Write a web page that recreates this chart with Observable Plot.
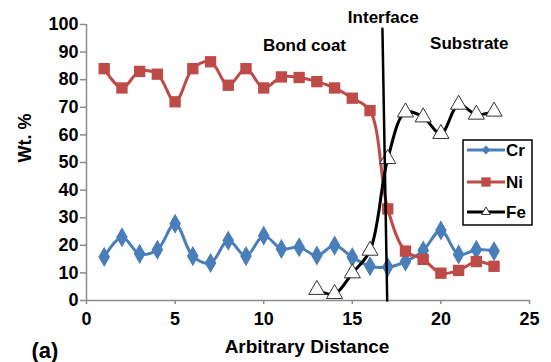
<!DOCTYPE html>
<html>
<head>
<meta charset="utf-8">
<script src="https://cdn.jsdelivr.net/npm/d3@7"></script>
<script src="https://cdn.jsdelivr.net/npm/@observablehq/plot@0.6"></script>
<style>
  body { margin: 0; background: #fff; }
  #wrap { position: relative; width: 551px; height: 362px; }
  #legend { position: absolute; left: 462px; top: 139px; }
</style>
</head>
<body>
<div id="wrap"></div>
<script>
// ---- data ----
const distance = [1,2,3,4,5,6,7,8,9,10,11,12,13,14,15,16,17,18,19,20,21,22,23];
const cr = [15.8,22.9,16.9,18.4,27.8,16.1,13.6,21.7,16.1,23.5,18.7,19.3,16.3,19.9,15.7,12.4,12.1,14.1,18.1,25.4,16.7,18.4,17.9];
const ni = [84,77,83,82,72,84,86.5,78,84,77,81,80.8,79.3,77,73.3,68.8,33.2,17.9,14.9,9.9,10.9,14.1,12.4];
const feDistance = [13,14,15,16,17,18,19,20,21,22,23];
const fe = [3.9,2.4,9.9,18.1,51.3,68.2,66.4,60.4,71,67.4,68.5];
const interfaceX = [16.7, 16.97];
const interfaceY = [98.5, 0];
const xTicks = [0,5,10,15,20,25];
const yTicks = [0,10,20,30,40,50,60,70,80,90,100];
const annotations = [
  {label: "Bond coat", x: 12.3, y: 92.5},
  {label: "Interface", x: 16.75, y: 102.4},
  {label: "Substrate", x: 21.6, y: 93.2}
];
const seriesNames = ["Cr", "Ni", "Fe"];
const colors = {Cr: "#4a7ebb", Ni: "#be4b48", Fe: "#000000"};

const crData = distance.map((d, i) => ({x: d, y: cr[i]}));
const niData = distance.map((d, i) => ({x: d, y: ni[i]}));
const feData = feDistance.map((d, i) => ({x: d, y: fe[i]}));
const ifaceData = interfaceX.map((d, i) => ({x: d, y: interfaceY[i]}));

const FONT = "Liberation Sans, Arial, Helvetica, sans-serif";
const axisGray = "#8c8c8c";

const chart = Plot.plot({
  width: 551,
  height: 362,
  marginLeft: 86,
  marginRight: 22,
  marginTop: 24,
  marginBottom: 62,
  style: {fontFamily: FONT, fontWeight: "bold", fontSize: "17px", color: "#000", background: "transparent", overflow: "visible"},
  x: {domain: [0, 25]},
  y: {domain: [0, 100]},
  marks: [
    Plot.axisX({ticks: xTicks, tickSize: 4, tickPadding: 8, stroke: axisGray, strokeWidth: 1.5, label: null, fontSize: 18, fontWeight: "bold", fill: "#000"}),
    Plot.axisY({ticks: yTicks, tickSize: 6, tickPadding: 2, stroke: axisGray, strokeWidth: 1.5, label: null, fontSize: 18, fontWeight: "bold", fill: "#000"}),
    Plot.ruleY([0], {stroke: axisGray, strokeWidth: 1.5}),
    Plot.ruleX([0], {stroke: axisGray, strokeWidth: 1.5}),
    Plot.line(crData, {x: "x", y: "y", stroke: colors.Cr, strokeWidth: 3, curve: "catmull-rom"}),
    Plot.dot(crData, {x: "x", y: "y", symbol: "diamond", r: 5.2, fill: colors.Cr, stroke: colors.Cr}),
    Plot.line(niData, {x: "x", y: "y", stroke: colors.Ni, strokeWidth: 3, curve: "catmull-rom"}),
    Plot.dot(niData, {x: "x", y: "y", symbol: "square", r: 6.4, fill: colors.Ni, stroke: "none"}),
    Plot.line(feData, {x: "x", y: "y", stroke: colors.Fe, strokeWidth: 3, curve: "catmull-rom"}),
    Plot.dot(feData, {x: "x", y: "y", symbol: "triangle", r: 6, fill: "#fff", stroke: "#333", strokeWidth: 1}),
    Plot.line(ifaceData, {x: "x", y: "y", stroke: "#000", strokeWidth: 2.5}),
    Plot.text(annotations, {x: "x", y: "y", text: "label", fontSize: 17, fontWeight: "bold", fill: "#000"}),
    Plot.text(["Wt. %"], {frameAnchor: "left", rotate: -90, dx: -61, fontSize: 18, fontWeight: "bold", fill: "#000"}),
    Plot.text(["Arbitrary Distance"], {frameAnchor: "bottom", dy: 52, dx: -1, fontSize: 19, fontWeight: "bold", fill: "#000"}),
    Plot.text(["(a)"], {frameAnchor: "bottom-left", dy: 57, dx: -55, fontSize: 22, fontWeight: "bold", fill: "#000"})
  ]
});
document.getElementById("wrap").appendChild(chart);

// ---- legend ----
const lw = 71, lh = 87;
const leg = d3.select("#wrap").append("svg")
  .attr("id", "legend").attr("width", lw).attr("height", lh)
  .style("font-family", FONT).style("font-weight", "bold").style("font-size", "17px");
leg.append("rect").attr("x", 1).attr("y", 1).attr("width", lw - 2).attr("height", lh - 2)
  .attr("fill", "#fff").attr("stroke", "#000").attr("stroke-width", 1.5);
const rowY = [11, 43, 73];
seriesNames.forEach((name, i) => {
  const g = leg.append("g").attr("transform", `translate(0,${rowY[i]})`);
  g.append("line").attr("x1", 5).attr("x2", 43).attr("y1", 0).attr("y2", 0)
    .attr("stroke", colors[name]).attr("stroke-width", 3);
  const sym = name === "Cr" ? d3.symbolDiamond2 : name === "Ni" ? d3.symbolSquare2 : d3.symbolTriangle2;
  const size = name === "Cr" ? 50 : name === "Ni" ? 110 : 55;
  g.append("path").attr("d", d3.symbol(sym, size)()).attr("transform", "translate(24,0)")
    .attr("fill", name === "Fe" ? "#fff" : colors[name])
    .attr("stroke", name === "Fe" ? "#333" : "none").attr("stroke-width", 1);
  g.append("text").attr("x", 44).attr("y", 0).attr("dy", "0.36em").text(name);
});
</script>
</body>
</html>
